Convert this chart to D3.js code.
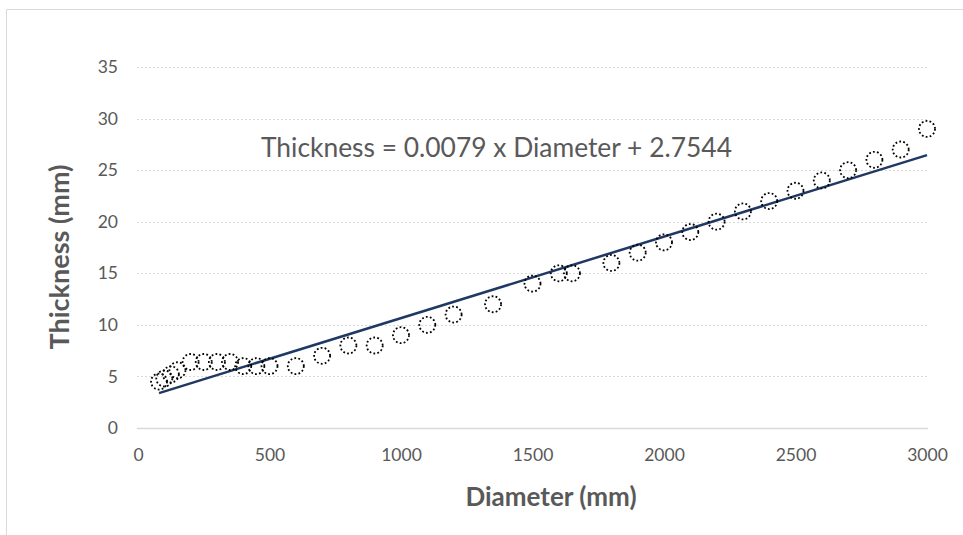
<!DOCTYPE html>
<html>
<head>
<meta charset="utf-8">
<script src="https://cdn.jsdelivr.net/npm/d3@7"></script>
<style>
  body { margin: 0; background: #fff; }
  svg { font-family: Lato, "Open Sans", sans-serif; }
</style>
</head>
<body>
<svg id="svg" width="963" height="535"></svg>
<script>
    // -- data
    var diameter  = [80, 100, 125, 150, 200, 250, 300, 350, 400, 450, 500, 600, 700, 800, 900,
                     1000, 1100, 1200, 1350, 1500, 1600, 1650, 1800, 1900, 2000, 2100, 2200,
                     2300, 2400, 2500, 2600, 2700, 2800, 2900, 3000];
    var thickness = [4.5, 4.8, 5.2, 5.6, 6.4, 6.4, 6.4, 6.4, 6.0, 6.0, 6.0, 6.0, 7, 8, 8,
                     9, 10, 11, 12, 14, 15, 15, 16, 17, 18, 19, 20,
                     21, 22, 23, 24, 25, 26, 27, 29];
    var xTicks = [0, 500, 1000, 1500, 2000, 2500, 3000];
    var yTicks = [0, 5, 10, 15, 20, 25, 30, 35];
    var slope = 0.0079, intercept = 2.7544;
    var equation = "Thickness = 0.0079 x Diameter + 2.7544";

    var svg = d3.select("svg#svg");
    var grey = "#595959";

    // - chart frame (only top/left edges are in the picture)
    svg.append("path")
        .attr("d", "M6.5,535 L6.5,9.5 L963,9.5")
        .style("fill", "none")
        .style("stroke", "#d9d9d9")
        .attr("stroke-width", 1);

    var x = d3.scaleLinear().domain([0, 3000]).range([138, 927]);
    var y = d3.scaleLinear().domain([0, 35]).range([428, 67]);

    // - gridlines
    svg.append("g").selectAll("line").data(yTicks)
        .enter().append("line")
        .attr("x1", x(0) - 1).attr("x2", x(3000) + 1)
        .attr("y1", function(d) { return Math.round(y(d)) + 0.5 })
        .attr("y2", function(d) { return Math.round(y(d)) + 0.5 })
        .style("stroke", "#d9d9d9")
        .attr("stroke-width", function(d) { return d === 0 ? 1.5 : 1 })
        .attr("stroke-dasharray", function(d) { return d === 0 ? null : "2,2" });

    // - axes (labels only)
    var xAxis = svg.append("g")
        .attr("transform", "translate(0," + 449 + ")")
        .call(d3.axisBottom(x).tickValues(xTicks).tickFormat(d3.format("d")).tickSize(0).tickPadding(0));
    var yAxis = svg.append("g")
        .attr("transform", "translate(" + 118 + ",0)")
        .call(d3.axisLeft(y).tickValues(yTicks).tickSize(0).tickPadding(0));
    [xAxis, yAxis].forEach(function(a) {
        a.select(".domain").remove();
        a.selectAll("text")
            .style("font-family", "Lato, 'Open Sans', sans-serif")
            .style("font-size", "17.5px")
            .style("fill", grey);
    });

    // - trend line
    var x0 = d3.min(diameter), x1 = d3.max(diameter);
    svg.append("line")
        .attr("x1", x(x0)).attr("y1", y(slope * x0 + intercept))
        .attr("x2", x(x1)).attr("y2", y(slope * x1 + intercept))
        .style("stroke", "#1f3864")
        .attr("stroke-width", 2.5);

    // - points
    svg.append("g").selectAll("circle").data(diameter)
        .enter().append("circle")
        .attr("cx", function(d) { return x(d) })
        .attr("cy", function(d, i) { return y(thickness[i]) })
        .attr("r", 8)
        .style("fill", "none")
        .style("stroke", "black")
        .attr("stroke-width", 1.8)
        .attr("stroke-dasharray", "1.8,2.2");

    // - equation
    svg.append("text")
        .attr("x", 261).attr("y", 157)
        .text(equation)
        .style("font-size", "26.4px")
        .style("fill", grey);

    // - axis titles
    svg.append("text")
        .attr("x", 551).attr("y", 506)
        .attr("text-anchor", "middle")
        .text("Diameter (mm)")
        .style("font-size", "26px")
        .style("font-weight", "bold")
        .style("fill", grey);
    svg.append("text")
        .attr("transform", "translate(69,257) rotate(-90)")
        .attr("text-anchor", "middle")
        .text("Thickness (mm)")
        .style("font-size", "27px")
        .style("font-weight", "bold")
        .style("fill", grey);
</script>
</body>
</html>
